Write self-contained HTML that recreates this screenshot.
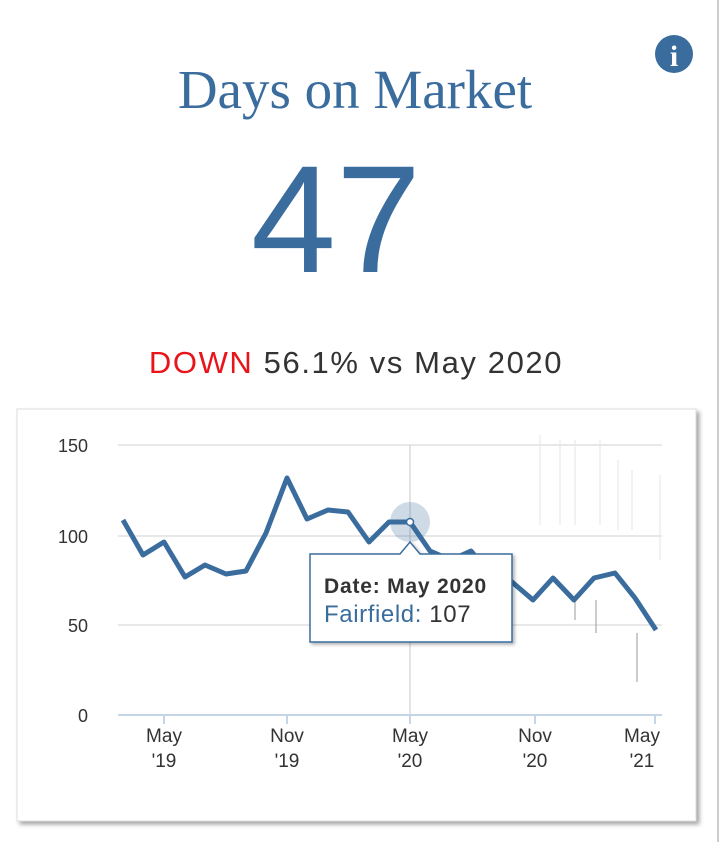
<!DOCTYPE html>
<html><head><meta charset="utf-8"><style>
body{margin:0;width:720px;height:842px;background:#fff;overflow:hidden;font-family:"Liberation Sans",sans-serif}
</style></head><body>
<svg width="720" height="842" xmlns="http://www.w3.org/2000/svg" style="position:absolute;left:0;top:0">
<defs><filter id="sh" x="-5%" y="-5%" width="110%" height="110%"><feDropShadow dx="3" dy="3" stdDeviation="2" flood-color="#000" flood-opacity="0.35"/></filter>
<filter id="sh2"><feDropShadow dx="2" dy="2" stdDeviation="1.5" flood-color="#000" flood-opacity="0.3"/></filter></defs>
<line x1="718" y1="0" x2="718" y2="842" stroke="#ccc" stroke-width="2"/>
<circle cx="674" cy="54" r="19" fill="#3a6d9d"/>
<text x="674" y="66" text-anchor="middle" font-family="Liberation Serif" font-weight="bold" font-size="30" fill="#fff">i</text>
<text x="355" y="108" text-anchor="middle" font-family="Liberation Serif,serif" font-size="55" fill="#3a6d9d">Days on Market</text>
<text x="336" y="272" text-anchor="middle" font-family="Liberation Sans,sans-serif" font-size="153" fill="#3a6d9d">47</text>
<text x="356" y="373" text-anchor="middle" font-size="31" fill="#333" letter-spacing="1.6"><tspan fill="#e8141a">DOWN</tspan> 56.1% vs May 2020</text>
<rect x="17" y="409" width="679" height="412" fill="#fff" stroke="#ddd" filter="url(#sh)"/>
<g stroke="#e0e0e0" stroke-width="1.5">
<line x1="118" y1="445" x2="662" y2="445"/><line x1="118" y1="536" x2="662" y2="536"/><line x1="118" y1="625" x2="662" y2="625"/></g>
<g stroke="#e6e6e6" stroke-width="1">
<line x1="540" y1="435" x2="540" y2="525"/><line x1="560" y1="440" x2="560" y2="525"/><line x1="575" y1="440" x2="575" y2="525"/><line x1="600" y1="440" x2="600" y2="525"/><line x1="618" y1="460" x2="618" y2="530"/><line x1="632" y1="470" x2="632" y2="530"/><line x1="660" y1="475" x2="660" y2="560"/></g>
<g stroke="#999" stroke-width="1"><line x1="637" y1="633" x2="637" y2="682"/><line x1="596" y1="600" x2="596" y2="633"/><line x1="575" y1="597" x2="575" y2="620"/></g>
<line x1="410" y1="445" x2="410" y2="715" stroke="#c8c8c8" stroke-width="1"/>
<line x1="118" y1="715" x2="662" y2="715" stroke="#c6d4e8" stroke-width="2"/>
<g stroke="#c6d4e8" stroke-width="2"><line x1="164" y1="715" x2="164" y2="724"/><line x1="287" y1="715" x2="287" y2="724"/><line x1="410" y1="715" x2="410" y2="724"/><line x1="535" y1="715" x2="535" y2="724"/><line x1="655" y1="715" x2="655" y2="724"/></g>
<g font-size="18" fill="#333" text-anchor="end"><text x="88" y="452">150</text><text x="88" y="543">100</text><text x="88" y="632">50</text><text x="88" y="722">0</text></g>
<g font-size="19" fill="#333" text-anchor="middle">
<text x="164" y="742">May</text><text x="164" y="767">'19</text>
<text x="287" y="742">Nov</text><text x="287" y="767">'19</text>
<text x="410" y="742">May</text><text x="410" y="767">'20</text>
<text x="535" y="742">Nov</text><text x="535" y="767">'20</text>
<text x="642" y="742">May</text><text x="642" y="767">'21</text></g>
<circle cx="410" cy="522" r="20" fill="#3a6d9d" fill-opacity="0.25"/>
<polyline fill="none" stroke="#3a6d9d" stroke-width="5" stroke-linejoin="round" points="123,520 143,555 164,542 185,577 205,565 226,574 246,571 266,533 287,478 307,519 328,510 348,512 369,542 389,522 410,522 430,551 451,560 471,551 492,576 512,582 533,600 553,578 574,600 594,578 615,573 635,598 656,630"/>
<circle cx="410" cy="522" r="3.5" fill="#fff" stroke="#3a6d9d" stroke-width="1.5"/>
<g filter="url(#sh2)"><path d="M310,554 H400 L410,542 L420,554 H512 V642 H310 Z" fill="#fff" stroke="#3a6d9d" stroke-width="1.5"/></g>
<text x="324" y="593" font-size="21" font-weight="bold" fill="#333" letter-spacing="0.8">Date: May 2020</text>
<text x="324" y="622" font-size="24" fill="#3a6d9d" letter-spacing="0.6">Fairfield: <tspan fill="#333">107</tspan></text>
</svg>
</body></html>
